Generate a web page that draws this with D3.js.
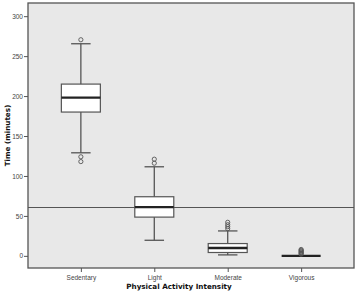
<!DOCTYPE html>
<html>
<head>
<meta charset="utf-8">
<script src="https://cdn.jsdelivr.net/npm/d3@7"></script>
<style>
  body { margin: 0; background: #fff; }
  svg { font-family: "DejaVu Sans", sans-serif; }
</style>
</head>
<body>
<div id="graph"></div>
<script>
// values (minutes)
const categories = ["Sedentary", "Light", "Moderate", "Vigorous"];
const q1 = [180, 48.5, 4.2, 0];
const medians = [198, 61, 9.8, 0];
const q3 = [215, 74, 15.4, 0];
const whiskLow = [129, 19.5, 1.2, 0];
const whiskHigh = [265.5, 111.5, 31.2, 0];
const outliers = [
  [270.5, 124, 118],
  [121, 116],
  [42, 39, 36.5, 34],
  [2, 3, 4, 5, 6, 7, 8]
];
const yTicks = [0, 50, 100, 150, 200, 250, 300];
const refLine = 60.5;

const W = 359, H = 300;
const m = { l: 28, r: 5, t: 3, b: 32 };
const lineCol = "#555";

const svg = d3.select("#graph").append("svg").attr("width", W).attr("height", H);

const x = d3.scalePoint().domain(categories).range([m.l, W - m.r]).padding(0.72);
const y = d3.scaleLinear().domain([-15.2, 316.5]).range([H - m.b, m.t]);
const bw = 39;

svg.append("rect")
  .attr("x", m.l).attr("y", m.t)
  .attr("width", W - m.r - m.l).attr("height", H - m.b - m.t)
  .attr("fill", "#e8e8e8");

const yAxis = svg.append("g")
  .attr("transform", `translate(${m.l},0)`)
  .call(d3.axisLeft(y).tickValues(yTicks).tickSize(4).tickPadding(1));
yAxis.select(".domain").remove();
yAxis.selectAll("line").attr("stroke", lineCol);
yAxis.selectAll("text").attr("font-size", 6.5).attr("fill", "#444");

const xAxis = svg.append("g")
  .attr("transform", `translate(0,${H - m.b})`)
  .call(d3.axisBottom(x).tickSize(4).tickPadding(3));
xAxis.select(".domain").remove();
xAxis.selectAll("line").attr("stroke", lineCol);
xAxis.selectAll("text").attr("font-size", 6.5).attr("fill", "#444");

// reference line
svg.append("line")
  .attr("x1", m.l).attr("x2", W - m.r)
  .attr("y1", y(refLine)).attr("y2", y(refLine))
  .attr("stroke", lineCol).attr("stroke-width", 1.2);

const box = svg.selectAll("g.box").data(categories).enter().append("g").attr("class", "box");

box.append("line")
  .attr("x1", (d) => x(d)).attr("x2", (d) => x(d))
  .attr("y1", (d, i) => y(whiskLow[i])).attr("y2", (d, i) => y(whiskHigh[i]))
  .attr("stroke", lineCol).attr("stroke-width", 1.3);
box.selectAll("line.cap")
  .data((d, i) => [whiskLow[i], whiskHigh[i]].map((v) => ({ c: d, v })))
  .enter().append("line").attr("class", "cap")
  .attr("x1", (d) => x(d.c) - bw / 4).attr("x2", (d) => x(d.c) + bw / 4)
  .attr("y1", (d) => y(d.v)).attr("y2", (d) => y(d.v))
  .attr("stroke", lineCol).attr("stroke-width", 1.3);
box.append("rect")
  .attr("x", (d) => x(d) - bw / 2).attr("width", bw)
  .attr("y", (d, i) => y(q3[i])).attr("height", (d, i) => y(q1[i]) - y(q3[i]))
  .attr("fill", "#fff").attr("stroke", lineCol).attr("stroke-width", 1.2);
box.append("line")
  .attr("x1", (d) => x(d) - bw / 2).attr("x2", (d) => x(d) + bw / 2)
  .attr("y1", (d, i) => y(medians[i])).attr("y2", (d, i) => y(medians[i]))
  .attr("stroke", "#222").attr("stroke-width", 2.4);
box.selectAll("circle")
  .data((d, i) => outliers[i].map((v) => ({ c: d, v })))
  .enter().append("circle")
  .attr("cx", (d) => x(d.c)).attr("cy", (d) => y(d.v)).attr("r", 2.1)
  .attr("fill", "none").attr("stroke", lineCol).attr("stroke-width", 0.9);

// frame
svg.append("rect")
  .attr("x", m.l).attr("y", m.t)
  .attr("width", W - m.r - m.l).attr("height", H - m.b - m.t)
  .attr("fill", "none").attr("stroke", lineCol).attr("stroke-width", 1.3);

svg.append("text")
  .attr("x", (m.l + W - m.r) / 2 - 12).attr("y", 289)
  .attr("text-anchor", "middle").attr("font-size", 7.2).attr("font-weight", "bold")
  .attr("fill", "#111")
  .text("Physical Activity Intensity");
svg.append("text")
  .attr("transform", `translate(9.5,${(m.t + H - m.b) / 2}) rotate(-90)`)
  .attr("text-anchor", "middle").attr("font-size", 7.2).attr("font-weight", "bold")
  .attr("fill", "#111")
  .text("Time (minutes)");
</script>
</body>
</html>
